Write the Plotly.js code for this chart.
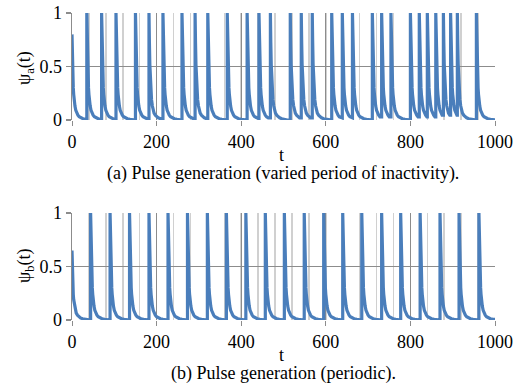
<!DOCTYPE html>
<html>
<head>
<meta charset="utf-8">
<script src="https://cdn.plot.ly/plotly-3.0.1.min.js"></script>
<style>
html,body{margin:0;padding:0;background:#fff;}
#chart{width:527px;height:387px;}
#chart .xtick text, #chart .ytick text, #chart .x2tick text, #chart .y2tick text {font-family: 'Liberation Serif', 'Times New Roman', serif !important;}
</style>
</head>
<body>
<div id="chart"></div>
<script>
// Pulse onset times
const pulseTimesA = [35, 70, 104, 150, 182, 215, 260, 291, 321, 367, 414, 442, 469, 516, 542, 568, 614, 639, 663, 710, 732, 754, 800, 821, 840, 860, 878, 895, 911, 956];
const pulseTimesB = [44, 90, 136, 182, 227, 273, 320, 365, 411, 457, 502, 549, 595, 640, 685, 732, 777, 823, 870, 915, 962];
// Shape of one pulse's decay (time after onset, level)
const decayOffsets = [0, 1, 2, 3, 4, 5, 6, 8, 10, 12, 15, 18, 22, 27, 33, 40];
const decayValues  = [1, 0.72, 0.52, 0.39, 0.3, 0.24, 0.19, 0.13, 0.09, 0.065, 0.045, 0.03, 0.02, 0.012, 0.006, 0];
const startLevelA = 0.8;
const startLevelB = 0.65;
const tEnd = 1000;
const xTickVals = [0, 200, 400, 600, 800, 1000];
const yTickVals = [0, 0.5, 1];
const yTickText = ['0', '0.5', '1'];
const captionA = '(a) Pulse generation (varied period of inactivity).';
const captionB = '(b) Pulse generation (periodic).';
const yTitleA = 'ψ<sub>a</sub>(t)';
const yTitleB = 'ψ<sub>b</sub>(t)';
const xTitle = 't';

function buildSeries(times, startLevel) {
  const x = [], y = [];
  let i0 = decayValues.findIndex(v => v <= startLevel);
  x.push(0); y.push(startLevel);
  for (let j = i0 + 1; j < decayOffsets.length; j++) {
    const t = decayOffsets[j] - decayOffsets[i0];
    if (t >= times[0]) break;
    x.push(t); y.push(decayValues[j]);
  }
  for (let k = 0; k < times.length; k++) {
    const tk = times[k];
    const next = k + 1 < times.length ? times[k + 1] : tEnd;
    x.push(tk); y.push(y[y.length - 1]);
    x.push(tk); y.push(1);
    for (let j = 1; j < decayOffsets.length; j++) {
      const t = tk + decayOffsets[j];
      if (t >= next) break;
      x.push(t); y.push(decayValues[j]);
    }
  }
  x.push(tEnd); y.push(y[y.length - 1]);
  return {x, y};
}

const sA = buildSeries(pulseTimesA, startLevelA);
const sB = buildSeries(pulseTimesB, startLevelB);

const lineStyle = {color: '#4A7EBB', width: 3.2};
const traces = [
  {x: sA.x, y: sA.y, type: 'scatter', mode: 'lines', line: lineStyle, xaxis: 'x', yaxis: 'y', hoverinfo: 'skip'},
  {x: sB.x, y: sB.y, type: 'scatter', mode: 'lines', line: lineStyle, xaxis: 'x2', yaxis: 'y2', hoverinfo: 'skip'}
];

const serif = 'Liberation Serif';
function tickFont() { return {family: serif, size: 18, color: '#000'}; }
function xAxis(anchor) {
  return {
    anchor: anchor, range: [0, tEnd], tickvals: xTickVals, ticktext: xTickVals.map(String),
    showgrid: true, gridcolor: '#8c8c8c', gridwidth: 1.2,
    minor: {dtick: 40, tick0: 0, showgrid: true, gridcolor: '#d0d0d0', gridwidth: 1.5, ticks: ''},
    ticks: 'outside', ticklen: 5, tickcolor: '#8c8c8c', tickwidth: 1,
    showline: false, zeroline: false, tickfont: tickFont(), fixedrange: true
  };
}
function yAxis(anchor, domain) {
  return {
    anchor: anchor, domain: domain, range: [0, 1], tickvals: yTickVals, ticktext: yTickText,
    showgrid: true, gridcolor: '#8c8c8c', gridwidth: 1.5,
    ticks: 'outside', ticklen: 5, tickcolor: '#8c8c8c', tickwidth: 1.5,
    showline: true, linecolor: '#8c8c8c', linewidth: 1.5, zeroline: false,
    tickfont: tickFont(), fixedrange: true
  };
}

const capFont = {family: serif, size: 18, color: '#000'};
function py(p) { return (320 - p) / 307; }
function px(p) { return (p - 72) / 423; }
const layout = {
  width: 527, height: 387,
  font: {family: serif, size: 18, color: '#000'},
  margin: {l: 72, r: 32, t: 13, b: 67},
  paper_bgcolor: '#fff', plot_bgcolor: '#fff',
  showlegend: false,
  xaxis: xAxis('y'),
  yaxis: yAxis('x', [0.6515, 1]),
  xaxis2: xAxis('y2'),
  yaxis2: yAxis('x2', [0, 0.3485]),
  annotations: [
    {text: xTitle, xref: 'paper', yref: 'paper', x: px(281), y: py(155), showarrow: false, font: capFont, xanchor: 'center', yanchor: 'middle'},
    {text: captionA, xref: 'paper', yref: 'paper', x: px(283), y: py(173), showarrow: false, font: capFont, xanchor: 'center', yanchor: 'middle'},
    {text: xTitle, xref: 'paper', yref: 'paper', x: px(281), y: py(355), showarrow: false, font: capFont, xanchor: 'center', yanchor: 'middle'},
    {text: captionB, xref: 'paper', yref: 'paper', x: px(283), y: py(373), showarrow: false, font: capFont, xanchor: 'center', yanchor: 'middle'},
    {text: yTitleA, xref: 'paper', yref: 'paper', x: px(25), y: py(68), showarrow: false, textangle: -90, font: capFont, xanchor: 'center', yanchor: 'middle'},
    {text: yTitleB, xref: 'paper', yref: 'paper', x: px(25), y: py(266), showarrow: false, textangle: -90, font: capFont, xanchor: 'center', yanchor: 'middle'}
  ]
};

Plotly.newPlot('chart', traces, layout, {displayModeBar: false, staticPlot: true});
</script>
</body>
</html>
